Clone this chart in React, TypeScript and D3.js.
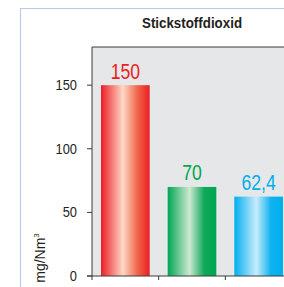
import React from "react";
import * as d3 from "d3";

// data
const categories = ["A", "B", "C"];
const values = [150, 70, 62.4];
const valueLabels = ["150", "70", "62,4"];
const yTicks = [0, 50, 100, 150];
const title = "Stickstoffdioxid";
const unitLabel = "mg/Nm";

const barColors = [
  { edge: "#ec1c24", light: "#fdd8c6", right: "#f0664a", text: "#ed1c24" },
  { edge: "#00a651", light: "#cde9d2", right: "#10a85a", text: "#00a651" },
  { edge: "#00aeef", light: "#c8ecfb", right: "#10b2ef", text: "#00aeef" },
];

const W = 284;
const H = 287;
const margin = { top: 47, left: 92, bottom: 276 };
const plotRight = 292;
const font = "'Liberation Sans', Arial, sans-serif";

// narrow text helper: the original uses a condensed face
const Narrow = ({ x, y, sx, anchor = "middle", children, ...rest }: any) => (
  <g transform={`translate(${x},${y}) scale(${sx},1)`}>
    <text x={0} y={0} textAnchor={anchor} fontFamily={font} {...rest}>
      {children}
    </text>
  </g>
);

const App = () => {
  const x = d3
    .scaleBand<string>()
    .domain(categories)
    .range([margin.left, plotRight])
    .paddingInner(0.27)
    .paddingOuter(0.135);
  const y = d3.scaleLinear().domain([0, 180]).range([margin.bottom, margin.top]);
  const step = x.step();
  const bandEdges = categories.map((c) => x(c)! - (step * x.paddingInner()) / 2);

  return (
    <svg
      width={W}
      height={H}
      style={{ position: "absolute", left: 0, top: 0, background: "#fff" }}
    >
      <defs>
        {barColors.map((c, i) => (
          <linearGradient key={i} id={"g" + i} x1="0" x2="1" y1="0" y2="0">
            <stop offset="0" stopColor={c.edge} />
            <stop offset="0.45" stopColor={c.light} />
            <stop offset="0.75" stopColor={c.right} />
            <stop offset="1" stopColor={c.edge} />
          </linearGradient>
        ))}
      </defs>

      {/* outer frame */}
      <line x1={20.5} x2={20.5} y1={8} y2={H} stroke="#b9c9e6" strokeWidth={1.2} />
      <line x1={20} x2={W} y1={8.5} y2={8.5} stroke="#b9c9e6" strokeWidth={1.2} />

      <Narrow
        x={(margin.left + plotRight) / 2}
        y={27.5}
        sx={0.89}
        fontWeight="bold"
        fontSize={15}
        fill="#231f20"
      >
        {title}
      </Narrow>

      {/* plot background */}
      <rect
        x={margin.left}
        y={margin.top}
        width={plotRight - margin.left}
        height={margin.bottom - margin.top}
        fill="#e6e7e8"
      />
      <line x1={margin.left} x2={W} y1={margin.top} y2={margin.top} stroke="#3a3a3a" />
      <line x1={margin.left} x2={margin.left} y1={margin.top} y2={margin.bottom} stroke="#3a3a3a" />

      {categories.map((c, i) => (
        <g key={c}>
          <rect
            x={x(c)}
            y={y(values[i])}
            width={x.bandwidth()}
            height={margin.bottom - y(values[i])}
            fill={`url(#g${i})`}
          />
          <Narrow
            x={x(c)! + x.bandwidth() / 2}
            y={y(values[i]) - 6.5}
            sx={0.8}
            fontSize={22}
            fill={barColors[i].text}
          >
            {valueLabels[i]}
          </Narrow>
        </g>
      ))}

      {/* y axis ticks */}
      {yTicks.map((t) => (
        <g key={t}>
          <line x1={margin.left - 5} x2={margin.left} y1={y(t)} y2={y(t)} stroke="#3a3a3a" />
          <Narrow x={77} y={y(t) + 5} sx={0.92} anchor="end" fontSize={14} fill="#231f20">
            {t}
          </Narrow>
        </g>
      ))}

      {/* x axis */}
      <line x1={margin.left - 5} x2={W} y1={margin.bottom} y2={margin.bottom} stroke="#3a3a3a" />
      {bandEdges.map((bx, i) => (
        <line key={i} x1={bx} x2={bx} y1={margin.bottom} y2={margin.bottom + 4} stroke="#3a3a3a" />
      ))}

      <text
        transform={`translate(45,258) rotate(-90)`}
        textAnchor="middle"
        fontFamily={font}
        fontSize={14}
        fill="#231f20"
      >
        {unitLabel}
        <tspan fontSize={8} dy={-6}>
          3
        </tspan>
      </text>
    </svg>
  );
};

export default App;
